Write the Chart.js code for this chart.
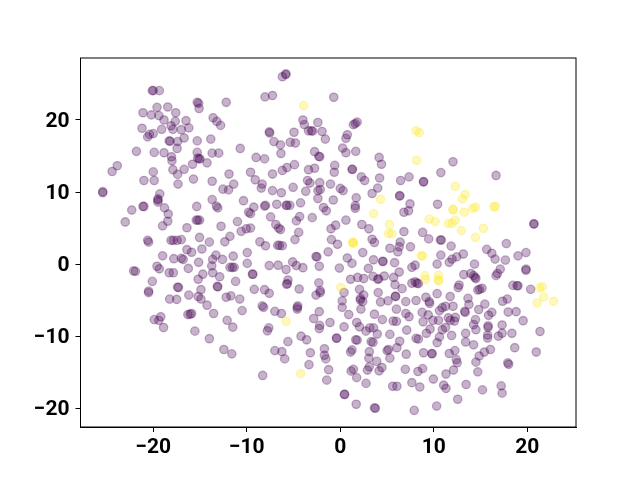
<!DOCTYPE html>
<html lang="en">
<head>
  <meta charset="UTF-8" />
  <title>Scatter</title>
  <script src="https://cdn.jsdelivr.net/npm/chart.js"></script>
  <style>
    body { margin: 0; background: #fff; }
    canvas { display: block; }
  </style>
</head>
<body>
  <canvas id="chart" width="640" height="480"></canvas>
  <script>
    const xTicks = [-20, -10, 0, 10, 20];
    const yTicks = [-20, -10, 0, 10, 20];

    // class 0 (dark purple), [x, y]
    const purplePoints = [
      [-20.1,24.07],[-20,24.07],[-19.35,24.07],[-12.2,22.45],[-15.3,22.45],[-15.15,22.3],[-15.1,21.6],[-19.6,21.75],[-18.45,21.8],[-21.1,21],[-17.6,21],[-20.2,20.7],[-19.4,20.6],[-18.85,20],[-17.65,19.8],[-16.5,19.9],[-13.6,20.3],[-13.2,19.8],[-12.8,19.25],
      [-18.1,19.2],[-17.9,18.7],[-17,18.65],[-16.2,18.9],[-21.2,18.85],[-19.1,18.7],[-20,18.1],[-20.4,18],[-20.6,17.65],[-16.7,17.5],[-15.3,17.1],[-13.85,17.35],[-18.3,17.1],[-18.2,17.05],[-17.4,17],[-17.45,16.05],[-10.7,16.05],[-21.8,15.65],[-19.9,15.5],[-18.85,15.45],[-15.3,15.5],[-13.7,15.4],[-13,15.4],
      [-18.05,14.9],[-18,14.35],[-15.25,14.7],[-15.1,14.6],[-15,14.6],[-15.8,13.85],[-14.25,14.05],[-16.7,13.15],[-17.9,13.1],[-17.4,12.45],[-20,12.8],[-23.85,13.65],[-24.4,12.85],[-11.9,12.5],[-9.6,12.75],[-21,11.6],[-19.9,11.6],[-17.35,11.1],[-15.7,11.8],[-13.7,11.5],[-11.4,11.1],
      [-12.55,10.4],[-11.95,10.3],[-10.35,8.8],[-25.4,10.05],[-25.4,9.9],[-19.3,9.75],[-19.5,9.05],[-19.5,8.6],[-19.5,8.9],[-13.7,8.95],[-15.35,8],[-13.25,8.05],[-13.1,7.8],[-21.1,8],[-21,8],[-22.3,7.5],[-18.8,7.8],[-18.4,6.95],[-23,5.85],[-18.45,5.95],[-19,5.3],[-15.4,6.1],[-15.25,6.1],[-15.05,6.1],[-16.4,5.05],[-12.75,5.25],[-11,5.9],[-9.8,7.2],[-9.6,7],[-10.6,4.55],[-10.05,4.9],[-9.6,5],
      [-20.6,3.3],[-20.5,3.05],[-18.1,3.3],[-17.85,3.3],[-17.45,3.3],[-17,3.4],[-15.05,3.7],[-14,3.05],[-11.8,3.85],[-12.35,3.1],[-16.4,2],[-15.9,1.65],[-14.8,2.1],[-19,1.15],[-17.8,0.75],[-17,0.8],[-16.8,0.65],[-15.15,0.25],[-13.3,1.25],[-13.65,0.65],[-12.6,0.65],[-11.45,1.1],[-9.95,1.6],[-9.95,0.1],
      [-19.6,-0.3],[-19.35,-0.65],[-22.1,-0.95],[-21.9,-1],[-16.25,-0.6],[-13.75,-0.25],[-18.3,-1.2],[-17.85,-1.2],[-11.8,-0.45],[-11.35,-0.45],[-11.55,-0.45],[-13.65,-1.2],[-14.7,-1.4],[-15.2,-2.1],[-12.9,-1.75],[-11.2,-2.4],[-9.4,-1.4],[-9.35,-1.4],[-20.1,-2.4],[-17.4,-3.2],[-17.3,-3.25],[-13.15,-3.1],[-13.1,-3.15],[-14.9,-3.55],[-20.5,-3.95],[-20.5,-3.75],[-16.2,-4.3],[-15.2,-4.5],[-14.9,-4.85],[-18.25,-4.85],[-17.5,-4.9],[-14.25,-5.7],[-12.2,-4.6],[-11.7,-4.4],[-10.75,-4.85],[-9.2,-3.5],
      [-13.55,-6.85],[-19.2,-7.3],[-19.4,-7.8],[-19.9,-7.7],[-18.9,-8.8],[-16.3,-7],[-15.9,-6.85],[-16.05,-6.95],[-15.55,-9.3],[-14,-10.35],[-12.1,-7.8],[-11.5,-8.75],[-10.5,-6.45],[-12.45,-11.85],[-11.6,-12.45],
      [-5.8,26.4],[-5.85,26.3],[-6.2,26],[-8.05,23.2],[-7.25,23.4],[-0.7,23.15],[-4,20],[-3.85,19.35],[-3.4,18.5],[-2.95,18.45],[-3.1,18.5],[-2.4,19.65],[-1.95,18.4],[-1.6,17.35],[-4.95,18.3],[-7.6,18.35],[-7.55,18.2],[-7.1,17],[-6.4,16.55],[-5.35,16.9],[-4.8,16.8],[-6.35,15.35],[-2.75,15.6],[-2.3,14.95],[-2.2,14.9],[0.25,16.1],[0.6,15.45],[1.65,15.65],[0.75,17.95],[0.6,17.45],[1.8,19.7],[1.6,19.5],[1.4,19.35],[4.15,14.8],[4.4,13.85],[-9,14.8],[-8.1,14.6],[-4.9,13.8],[-5.7,13.4],[-6.2,13],[-7.25,12.5],[-9.1,11.7],[-8.35,11.1],[-3.4,13.1],[-2.75,13.3],[-0.6,13.7],[-0.65,12.75],[1.25,13.15],[1.3,13.15],[2.25,12.1],[2.6,11.6],[4.2,11.95],[6.45,11.6],[7.35,12.1],[-3.5,11.6],[-3.25,11.25],[-2.2,11.3],[-1.05,11.1],
      [-8.45,10.55],[-7.25,10.2],[-6.3,9.9],[-5.05,10.65],[-3.7,10.1],[-2.15,10.35],[-2.4,10.2],[-2.4,9.1],[0,10.5],[0.3,10.2],[-0.75,8.9],[1.7,9.2],[4,10.55],[3.4,9.8],[6.35,9.5],[6.35,9.45],[-9.25,7.9],[-8,8.15],[-8.1,8.05],[-6.8,8.3],[-5.7,8.15],[-5.4,8.15],[-5.8,8.15],[-4.25,8.5],[-1.8,7.85],[-1.5,7.4],[1.6,8.1],[1.6,7.75],[6.8,7.2],[7.3,7.4],[7.45,8.35],
      [-7.45,6.55],[-4.35,6.6],[-4.7,6],[-3,6.45],[0.6,6.1],[2.3,5.5],[-0.5,5.4],[-1,4.9],[3.05,4.9],[6.8,4.5],[-6.9,5.5],[-6.6,5],[-6.4,4.8],[-4.45,4.4],[-4.85,3.4],[-8.6,3.1],[-8,2.55],[-6.7,2.6],[-6.2,2.55],[-6.5,2.6],[-0.95,3.4],[-0.3,2.75],[3.4,3.45],[3.65,3],[6.4,3.05],[6.3,2.4],[6.15,1.7],[5.3,2.2],[7.5,2.4],[2.4,1.6],[-1.3,1.7],[-2.6,1.05],[-2.5,1],[0.75,0.85],[1.25,0.1],[3.55,0.6],[4.55,0.4],[4.55,0.35],[5.8,0.2],
      [-7.6,-0.2],[-6.65,-0.15],[-5.8,-0.75],[-5.1,0.3],[-4.7,-0.2],[-4,-0.5],[-2.25,-0.3],[-0.1,-0.55],[3,-0.6],[6.3,-1.1],[7.65,-0.45],[8,-0.15],[-5.6,-2.2],[-5.75,-2.8],[-5.65,-2.7],[-2.3,-2.6],[1.1,-2.1],[1.85,-1.85],[2.5,-2],[3.5,-1.7],[4,-2.1],[4.1,-2.05],[4.7,-1.65],[5.7,-1.85],[5.85,-2.85],[6.6,-3.4],[7.65,-2.65],[8,-2.45],[-8.1,-3.55],[-7.6,-4.05],[-4.4,-3.45],[-2.15,-3.7],[-2.15,-3.95],[-2.6,-4.3],[0.4,-3.95],[2.05,-3.5],[2.5,-4.3],[4.05,-3.95],[5.9,-4.45],[5.9,-4.5],[0.2,-5.1],[2.15,-4.75],[2.15,-5],[2.4,-5.2],[4.3,-5.25],[5.1,-5.1],[7,-5.2],[-8.35,-5.8],[-4.55,-5.8],
      [0.2,-6],[2.2,-6.25],[6,-6.25],[7,-6.85],[7.35,-7.3],[-8.2,-6],[-4.6,-6],[-4.6,-6.25],[-7,-6.55],[-6.3,-6.85],[-2.25,-6.6],[-2.85,-7.55],[-2.2,-8.5],[-2.25,-8.95],[-1.1,-8.1],[0.4,-8.7],[0.9,-7],[1.75,-8.1],[2.05,-8.7],[3.65,-6.95],[4.5,-7.7],[2.75,-9.3],[3.15,-8.85],[3.55,-8.85],[3.95,-9.7],[5.65,-7.9],[6,-7.95],[7.1,-9.15],[-7.65,-8.85],[-7.8,-9.25],[-4.2,-10],[-3.6,-10.5],[-5.6,-10.75],[-0.4,-10.3],[-0.4,-10.25],[1.65,-10.5],[1.8,-10.55],[3.3,-10.75],[3.5,-10.85],[5.3,-9.75],[6.35,-10.7],[6.05,-11.6],[5.15,-11.85],[5,-12],[5.3,-13.05],[7.05,-12.5],
      [-7,-12],[-6.25,-12.15],[-5.95,-13.15],[-3.2,-12.3],[-1.7,-11.75],[-1.7,-12.65],[-1.55,-13.15],[1.25,-11.9],[1.1,-12.2],[3.1,-12.15],[3.05,-13.05],[3.9,-13.5],[3.1,-14.25],[2.9,-14.7],[4.45,-14.35],[4.15,-14.8],[-3.35,-13.95],[-8.3,-15.45],[-1.25,-14.65],[-1.45,-16.1],[1.4,-14.6],[1.15,-14.85],[1.75,-15.75],[2.75,-16.55],[6.95,-14.6],[5.6,-16.95],[6.05,-16.95],[0.45,-18.1],[0.45,-18.05],[1.7,-19.45],[3.65,-19.95],[3.75,-20],
      [12.05,14.2],[10.75,12.7],[16.65,12.3],[8.9,11.4],[8.9,11.45],[10.4,8.3],[20.7,5.55],[20.7,5.6],[8.8,4.4],[9.45,3.5],[10.7,3.35],[10.8,3.35],[11.85,2.5],[17.75,2.85],
      [15.65,2.05],[16.2,1.5],[16.55,0.7],[17.65,0.55],[19,1.15],[19.85,1.6],[10.75,1.25],[13.15,1.4],[12.45,1],[11.95,0.7],[11.65,0.25],[10.35,0],[14.35,0],[19.85,-0.7],[19.85,-0.85],[17.1,-0.7],[16.8,-1.3],[16.65,-1.6],[13.2,-1.45],[13.95,-1.3],[14.25,-1.6],[14.5,-2],[14.4,-1.85],[8.2,-2.65],[8.35,-2.7],[12.7,-2.9],[12.6,-3.25],[15.15,-3.35],[14.7,-3.6],[14.9,-3.5],[18.45,-2.95],[19,-3],[18.9,-3],[20.35,-3.5],
      [10.35,-4.1],[11.75,-4.5],[9.15,-4.6],[9.5,-5.2],[9.55,-5.45],[8.1,-5.05],[13.65,-4.75],[13.75,-5.6],[15.45,-5.55],[14.8,-6.3],[17.35,-5.15],[17.85,-4.85],[13.3,-6.55],[13.35,-6.7],[16.2,-6.7],[15.85,-7.1],[17.95,-6.65],[18.8,-6.6],[19.55,-7.85],[21.35,-9.35],[12.05,-5.85],[11.25,-5.85],[10.9,-6.05],[10.6,-6.45],[8.75,-6.7],[9.4,-7.05],[8.85,-8],[9.9,-7.8],[10.5,-7.8],[11.55,-7.45],[12.3,-7.4],[12.2,-7.9],[11.75,-7.8],[14.45,-7.7],[14.25,-8.4],[14.5,-9.1],[15.8,-8.55],[15.8,-8.8],[17.3,-8.45],[11.25,-8.8],[10.9,-9.1],[9.6,-9],[9.2,-9.6],[13.4,-9.6],[11.9,-9.9],[15.75,-9.85],[15.75,-10.25],[17.3,-9.6],[16.9,-10],[18.35,-9.6],[10.6,-10.1],[10.35,-10.9],[8.1,-10.3],[8.35,-10.4],[13.4,-10.8],[14.25,-11.2],[18.65,-11.6],[20.95,-12.2],[12.25,-12],[11.65,-12.4],[12.4,-13.25],[12.5,-13.7],[8.9,-12.3],[9.8,-12.4],[9.8,-12.45],[16.05,-11.85],[15.4,-12.2],[14.85,-12.75],[14.5,-13.6],[17.9,-13.7],[18,-13.9],
      [14.7,-14.95],[12.1,-14.7],[11.3,-15.25],[8.8,-14.5],[8.3,-14.9],[7.65,-16.45],[8.5,-17.05],[9.95,-15.95],[11.05,-16.8],[11.3,-17.25],[13.45,-16.7],[15.2,-17.45],[17.2,-16.9],[17.3,-17.9],[12.55,-18.75],[10.3,-19.7],[7.9,-20.3]
    ];

    // class 1 (yellow)
    const yellowPoints = [
      [-3.9,22],[8.1,18.5],[8.45,18.25],[8.15,14.4],[12.3,10.8],[13.35,9.65],[13.05,9.05],[12.05,7.6],[12.05,7.55],[13.25,7.2],[14.15,7.7],[14.45,7.9],[16.4,7.95],[16.6,8],[9.5,6.25],[10.15,5.9],[11.55,5.65],[11.95,5.65],[12.3,6.1],[15.3,4.95],[12.95,4.65],[14.45,3.7],
      [4.3,9],[3.55,7],[5.25,5.5],[5.15,4.25],[5.5,4.25],[1.35,3.05],[1.4,2.9],[1.35,2.95],[0.05,-3.25],[-5.8,-7.95],[-4.25,-15.2],
      [8.65,1.15],[8.8,1.15],[9.05,-1.6],[9.1,-2.15],[10.5,-1.55],[10.5,-2.15],[10.5,-2.35],[21.3,-3.3],[21.6,-3.15],[21.75,-4.55],[21.05,-5.4],[22.8,-5.15]
    ];

    const purple = 'rgba(68, 1, 84, 0.3)';
    const yellow = 'rgba(253, 231, 37, 0.3)';
    const tickFont = { family: 'Roboto', size: 21, weight: 'bold' };

    function tickLabel(value) {
      return value < 0 ? '\u2212' + Math.abs(value) : String(value);
    }

    // top and right spines
    const frame = {
      id: 'frame',
      afterDraw(chart) {
        const { ctx, chartArea: a } = chart;
        ctx.save();
        ctx.strokeStyle = '#000';
        ctx.lineWidth = 1;
        ctx.strokeRect(a.left, a.top, a.right - a.left, a.bottom - a.top);
        ctx.restore();
      }
    };

    new Chart(document.getElementById('chart').getContext('2d'), {
      type: 'scatter',
      data: {
        datasets: [
          { data: yellowPoints.map(p => ({ x: p[0], y: p[1] })), backgroundColor: yellow, borderColor: yellow },
          { data: purplePoints.map(p => ({ x: p[0], y: p[1] })), backgroundColor: purple, borderColor: purple }
        ]
      },
      options: {
        responsive: false,
        animation: false,
        layout: { padding: { top: 58, right: 64, left: 0, bottom: 0 } },
        elements: { point: { radius: 4.2, borderWidth: 1.3, hoverRadius: 4.2 } },
        plugins: { legend: { display: false }, tooltip: { enabled: false } },
        scales: {
          x: {
            type: 'linear',
            min: -27.78,
            max: 25.2,
            afterBuildTicks: scale => { scale.ticks = xTicks.map(v => ({ value: v })); },
            afterFit: scale => { scale.height = 53; },
            grid: { drawOnChartArea: false, tickLength: 5, tickColor: '#000' },
            border: { color: '#000', width: 1 },
            ticks: { color: '#000', font: tickFont, maxRotation: 0, padding: 3, callback: tickLabel }
          },
          y: {
            type: 'linear',
            min: -22.6,
            max: 28.6,
            afterBuildTicks: scale => { scale.ticks = yTicks.map(v => ({ value: v })); },
            afterFit: scale => { scale.width = 80.5; },
            grid: { drawOnChartArea: false, tickLength: 5, tickColor: '#000' },
            border: { color: '#000', width: 1 },
            ticks: { color: '#000', font: tickFont, padding: 6, labelOffset: 1.5, callback: tickLabel }
          }
        }
      },
      plugins: [frame]
    });
  </script>
</body>
</html>
